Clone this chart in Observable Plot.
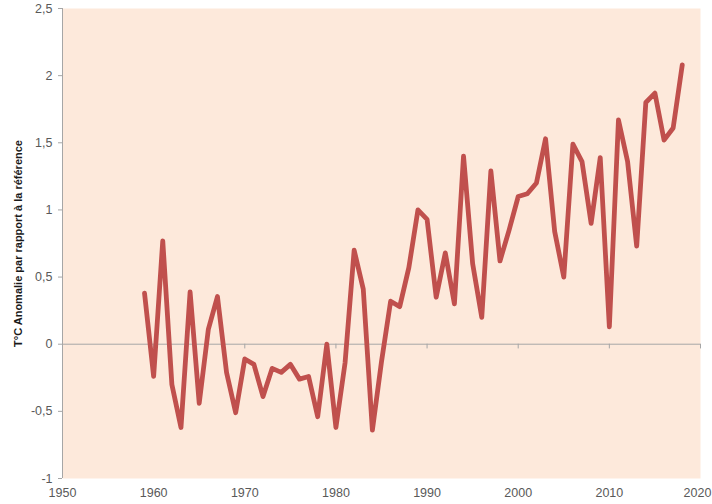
<!DOCTYPE html>
<html>
<head>
<meta charset="utf-8">
<script src="https://cdn.jsdelivr.net/npm/d3@7"></script>
<script src="https://cdn.jsdelivr.net/npm/@observablehq/plot@0.6"></script>
<style>
  html, body { margin: 0; padding: 0; background: #ffffff; }
  #chart svg { display: block; }
</style>
</head>
<body>
<div id="chart"></div>
<script>
const years = d3.range(1959, 2019);
const anomalies = [
  0.38, -0.24, 0.77, -0.30, -0.62, 0.39, -0.44, 0.11, 0.355, -0.21,
  -0.51, -0.11, -0.15, -0.39, -0.18, -0.21, -0.15, -0.26, -0.24, -0.54,
  0.00, -0.62, -0.14, 0.70, 0.41, -0.64, -0.13, 0.32, 0.28, 0.57,
  1.00, 0.93, 0.35, 0.68, 0.30, 1.40, 0.60, 0.20, 1.29, 0.62,
  0.85, 1.10, 1.12, 1.20, 1.53, 0.84, 0.50, 1.49, 1.36, 0.90,
  1.39, 0.13, 1.67, 1.36, 0.73, 1.80, 1.87, 1.52, 1.61, 2.08
];
const xTicks = [1950, 1960, 1970, 1980, 1990, 2000, 2010, 2020];
const yTicks = [-1, -0.5, 0, 0.5, 1, 1.5, 2, 2.5];
const yLabel = "T°C Anomalie par rapport à la référence";

const data = years.map((year, i) => ({year, value: anomalies[i]}));
const frFormat = d => String(d).replace(".", ",");
const lastTick = xTicks[xTicks.length - 1];

const chart = Plot.plot({
  width: 712,
  height: 504,
  marginLeft: 62,
  marginRight: 12,
  marginTop: 8,
  marginBottom: 26,
  style: {fontFamily: "'Liberation Sans', Arial, sans-serif", fontSize: "12px", color: "#595959", background: "#ffffff"},
  x: {domain: [1950, 2020]},
  y: {domain: [-1, 2.5]},
  marks: [
    Plot.frame({fill: "#fde9db", stroke: null}),
    Plot.ruleY([0], {stroke: "#a6a6a6", strokeWidth: 1}),
    Plot.ruleX(xTicks, {x: d => d, y1: 0, y2: -0.035, stroke: "#a6a6a6"}),
    Plot.ruleX([1950], {stroke: "#a6a6a6", strokeWidth: 1}),
    Plot.axisY({ticks: yTicks, tickFormat: frFormat, tickSize: 4, tickPadding: 6, stroke: "#a6a6a6", fill: "#595959", fontSize: 12.5, label: null}),
    Plot.axisX({ticks: xTicks.slice(0, -1), tickFormat: d => String(d), tickSize: 0, tickPadding: 10, fill: "#595959", fontSize: 12.5, label: null}),
    Plot.axisX({ticks: [lastTick], tickFormat: d => String(d), tickSize: 0, tickPadding: 10, dx: -3, fill: "#595959", fontSize: 12.5, label: null}),
    Plot.line(data, {x: "year", y: "value", stroke: "#c0504d", strokeWidth: 4.8, strokeLinejoin: "round", strokeLinecap: "round"}),
    Plot.text([yLabel], {frameAnchor: "left", textAnchor: "middle", rotate: -90, dx: -44, fontWeight: "bold", fontSize: 11, fill: "#1a1a1a"})
  ]
});
document.getElementById("chart").appendChild(chart);
</script>
</body>
</html>
